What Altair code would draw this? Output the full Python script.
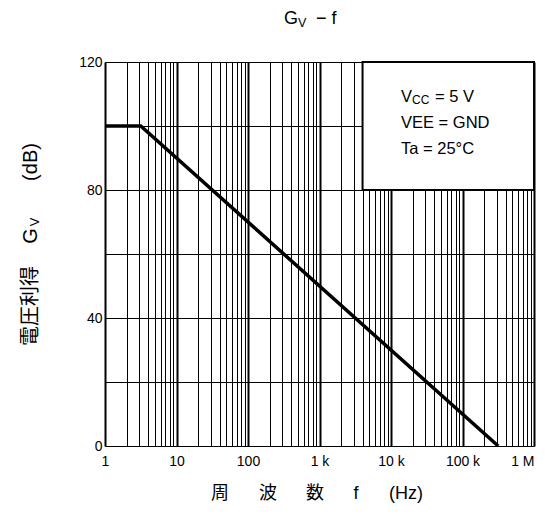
import altair as alt
import pandas as pd

# ---- data ----
freq = [1, 3.16, 316000]
gain = [100, 100, 0]

x_tick_values = [1, 2, 3, 4, 5, 6, 7, 8, 9,
                 10, 20, 30, 40, 50, 60, 70, 80, 90,
                 100, 200, 300, 400, 500, 600, 700, 800, 900,
                 1000, 2000, 3000, 4000, 5000, 6000, 7000, 8000, 9000,
                 10000, 20000, 30000, 40000, 50000, 60000, 70000, 80000, 90000,
                 100000, 200000, 300000, 400000, 500000, 600000, 700000, 800000, 900000,
                 1000000]
x_label_values = [1, 10, 100, 1000, 10000, 100000, 1000000]
x_label_texts = ["1", "10", "100", "1 k", "10 k", "100 k", "1 M"]
y_tick_values = [0, 20, 40, 60, 80, 100, 120]
y_label_values = [0, 40, 80, 120]

box_f = [4000]
box_f2 = [1000000]
box_g = [80]
box_g2 = [120]

legend_lines = ["= 5 V", "VEE = GND", "Ta = 25°C"]

FONT = "Liberation Sans"
CJK = "Noto Sans CJK JP"

W, H = 429, 384

label_expr = "".join(
    f"datum.value == {v} ? '{t}' : " for v, t in zip(x_label_values, x_label_texts)
) + "''"
y_label_expr = " || ".join(f"datum.value == {v}" for v in y_label_values)
y_label_expr = f"({y_label_expr}) ? datum.label : ''"

xscale = alt.Scale(type="log", domain=[1, 1000000], nice=False)
yscale = alt.Scale(domain=[0, 120], nice=False)

decade_test = "abs(log(datum.value)/LN10 - round(log(datum.value)/LN10)) < 0.000001"

xaxis = alt.Axis(
    values=x_tick_values, labelExpr=label_expr, title=None, domain=False,
    ticks=False, grid=True, gridColor="black", gridOpacity=1,
    gridWidth={"condition": {"test": decade_test, "value": 2}, "value": 1},
    labelAlign={"condition": {"test": "datum.value >= 1000000", "value": "right"},
                "value": "center"},
    labelFont=FONT, labelFontSize=14, labelColor="black", labelPadding=8,
    labelFlush=False, labelOverlap=False,
)
yaxis = alt.Axis(
    values=y_tick_values, labelExpr=y_label_expr, title=None, domain=False,
    ticks=False, grid=True, gridColor="black", gridOpacity=1, gridWidth=1,
    labelFont=FONT, labelFontSize=14, labelColor="black", labelPadding=3,
    labelOverlap=False,
)

df = pd.DataFrame({"f": freq, "g": gain})
line = alt.Chart(df).mark_line(color="black", strokeWidth=3.5, clip=True).encode(
    x=alt.X("f:Q", scale=xscale, axis=xaxis),
    y=alt.Y("g:Q", scale=yscale, axis=yaxis),
)

box_df = pd.DataFrame({"f": box_f, "f2": box_f2, "g": box_g, "g2": box_g2})
box = alt.Chart(box_df).mark_rect(fill="white", stroke="black", strokeWidth=2).encode(
    x=alt.X("f:Q", scale=xscale), x2="f2:Q",
    y=alt.Y("g:Q", scale=yscale), y2="g2:Q",
)

one = pd.DataFrame({"a": [0]})


def label(text, x, y, size, font=FONT, align="left", angle=0, baseline="alphabetic"):
    kw = dict(text=text, font=font, fontSize=size, color="black", align=align,
              baseline=baseline)
    if angle:
        kw["angle"] = angle
    return alt.Chart(one).mark_text(**kw).encode(x=alt.value(x), y=alt.value(y))


# legend text (plot coordinates)
lx = 296
lf = 16.5
leg = [
    label("V", lx, 40, lf),
    label("CC", lx + 11, 42, 12),
    label(legend_lines[0], lx + 34, 40, lf),
    label(legend_lines[1], lx, 66, lf),
    label(legend_lines[2], lx, 92, lf),
]

# chart title  G_V − f
title = [
    label("G", 193, -38, 18, align="right"),
    label("V", 193, -35, 12.5),
    label("− f", 211, -38, 18),
]

# x-axis title
xt_y = 53
xtitle = [
    label("周", 115, xt_y, 18, font=CJK, align="center"),
    label("波", 163, xt_y, 18, font=CJK, align="center"),
    label("数", 210, xt_y, 18, font=CJK, align="center"),
    label("f", 251, xt_y, 18, align="center"),
    label("(Hz)", 301, xt_y, 18, align="center"),
]
xtitle = [c.encode(y=alt.value(H + xt_y)) for c in xtitle]

# y-axis title (rotated)
yt_x = -74
ytitle = [
    label("電圧利得", yt_x, 244, 20, font=CJK, align="center", angle=270, baseline="middle"),
    label("G", yt_x, 174, 20, align="center", angle=270, baseline="middle"),
    label("V", yt_x + 4, 160, 13, align="center", angle=270, baseline="middle"),
    label("(dB)", yt_x, 100, 20, align="center", angle=270, baseline="middle"),
]

chart = alt.layer(line, box, *leg, *title, *xtitle, *ytitle).properties(
    width=W, height=H,
    autosize=alt.AutoSizeParams(type="none"),
    padding={"left": 97, "top": 54, "right": 3, "bottom": 60},
).configure_view(stroke="black", strokeWidth=2.5).configure(background="white")

chart.save("out.html", embed_options={"renderer": "svg", "actions": False})
